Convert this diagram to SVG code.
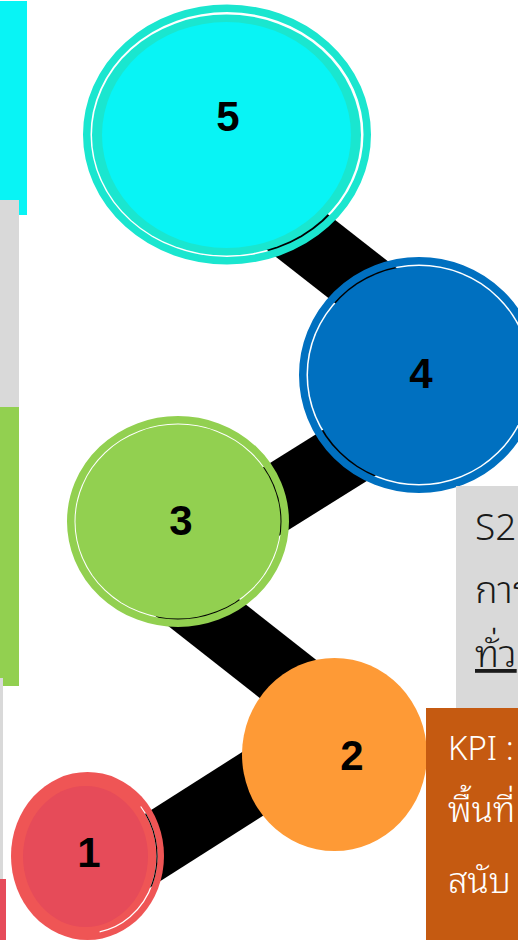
<svg xmlns="http://www.w3.org/2000/svg" width="518" height="940" viewBox="0 0 518 940">
  <style>
    .num { font-family: "Liberation Sans", Arial, sans-serif; font-weight: bold; font-size: 42px; fill: #000; text-anchor: middle; }
    .box-text { font-family: "Noto Sans", "Noto Sans Thai Looped", "Noto Sans Thai", "Loma", "Garuda", "DejaVu Sans", sans-serif; font-weight: 300; }
    .band { fill: #000; }
    .gap-white { fill: none; stroke: #fff; stroke-width: 1.2; }
    .gap-black { fill: none; stroke: #000; stroke-width: 1.2; }
  </style>
  <defs>
    <!-- thick connector bands, reused for the clip of the node rings -->
    <polygon id="band54" points="230,221 270,169 440,302 400,354"/>
    <polygon id="band43" points="182,518 382,393 418,449 218,574"/>
    <polygon id="band32" points="170,545 380,710 340,761 130,596"/>
    <polygon id="band21" points="82,854 302,714 338,768 118,908"/>
    <clipPath id="clip21"><use href="#band21"/></clipPath>
  </defs>

  <rect width="518" height="940" fill="#fff"/>

  <!-- side strips on the left edge -->
  <g id="side-strips">
    <rect x="0" y="1" width="27" height="214" fill="#08F4F5"/>
    <rect x="0" y="200" width="19" height="207" fill="#D9D9D9"/>
    <rect x="0" y="407" width="19" height="279" fill="#92D050"/>
    <rect x="0" y="678" width="3" height="202" fill="#D9D9D9"/>
    <rect x="0" y="879" width="6" height="61" fill="#E64B5A"/>
  </g>

  <!-- connectors -->
  <g id="connectors">
    <use href="#band54" class="band"/>
    <use href="#band43" class="band"/>
    <use href="#band32" class="band"/>
    <use href="#band21" class="band"/>
  </g>

  <!-- step 5 -->
  <g id="node5">
    <ellipse cx="227" cy="134.5" rx="140.25" ry="126.25" fill="none" stroke="#1AE6CF" stroke-width="7.5"/>
    <ellipse cx="226.5" cy="135" rx="134.5" ry="120.5" fill="#1AE6CF"/>
    <ellipse cx="226.5" cy="135" rx="124.5" ry="113" fill="#08F4F5"/>
    <text class="num" x="228" y="131">5</text>
  </g>

  <!-- step 4 -->
  <g id="node4">
    <ellipse cx="419" cy="375" rx="116.25" ry="114.25" fill="none" stroke="#0070C0" stroke-width="7.5"/>
    <ellipse cx="419" cy="375" rx="111" ry="109" fill="#0070C0"/>
    <text class="num" x="421" y="388">4</text>
  </g>

  <!-- step 3 -->
  <g id="node3">
    <ellipse cx="178" cy="521.5" rx="107.25" ry="101.75" fill="none" stroke="#92D050" stroke-width="7.5"/>
    <ellipse cx="178" cy="521.5" rx="102.5" ry="97" fill="#92D050"/>
    <text class="num" x="181" y="535">3</text>
  </g>

  <!-- step 2 -->
  <g id="node2">
    <ellipse cx="334.5" cy="754.5" rx="92.5" ry="96.5" fill="#FE9A36"/>
    <text class="num" x="352" y="770">2</text>
  </g>

  <!-- step 1 -->
  <g id="node1">
    <ellipse cx="87.5" cy="856" rx="76.5" ry="84" fill="#EF5555"/>
    <path class="gap-white" d="M140.7,806.5 A69.5,77 0 0 1 99.6,931.8"/>
    <path class="gap-black" clip-path="url(#clip21)" d="M140.7,806.5 A69.5,77 0 0 1 99.6,931.8"/>
    <ellipse cx="85.5" cy="856.5" rx="62.5" ry="70.5" fill="#E64B59"/>
    <text class="num" x="89" y="867">1</text>
  </g>

  <!-- strategy text box -->
  <g id="strategy-box">
    <rect x="456" y="486" width="62" height="222" fill="#D9D9D9"/>
    <text class="box-text" x="475" y="540" font-size="37" fill="#1a1a1a">S2</text>
    <text class="box-text" x="475" y="603" font-size="38" fill="#1a1a1a">การ</text>
    <text class="box-text" x="475" y="667" font-size="38" fill="#1a1a1a" text-decoration="underline">ทั่ว</text>
  </g>

  <!-- KPI text box -->
  <g id="kpi-box">
    <rect x="426" y="708" width="92" height="232" fill="#C55A11"/>
    <text class="box-text" x="448" y="760" font-size="33" fill="#fff">KPI :</text>
    <text class="box-text" x="448" y="822" font-size="35" fill="#fff">พื้นที่</text>
    <text class="box-text" x="448" y="893" font-size="35" fill="#fff">สนับ</text>
  </g>
</svg>
